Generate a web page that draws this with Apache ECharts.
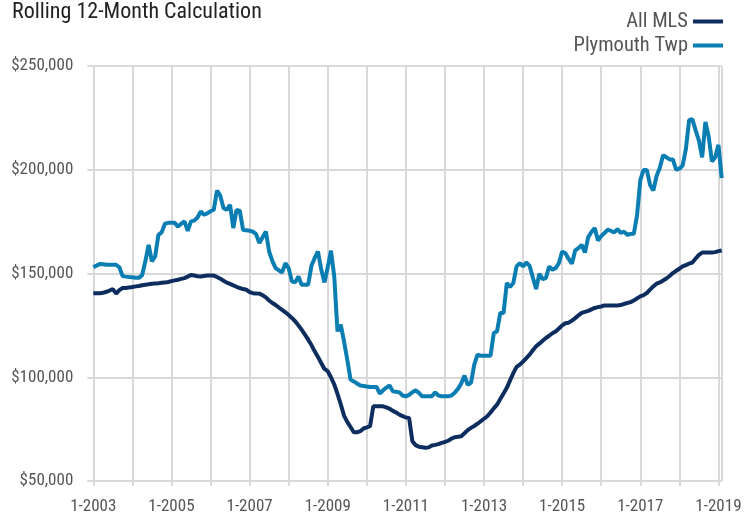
<!DOCTYPE html>
<html>
<head>
<meta charset="utf-8">
<script src="https://cdn.jsdelivr.net/npm/echarts@6/dist/echarts.min.js"></script>
<style>
html,body{margin:0;padding:0;background:#fff;}
#chart{width:755px;height:515px;}
</style>
</head>
<body>
<div id="chart"></div>
<script>
// Monthly categories from 1-2003 to 2-2019
var startYear = 2003, endYear = 2019, endMonth = 2;
var categories = [];
for (var y = startYear; y <= endYear; y++) {
  for (var m = 1; m <= 12; m++) {
    if (y === endYear && m > endMonth) break;
    categories.push(m + '-' + y);
  }
}

// All MLS (values in $ thousands), one per month
var allMLS = [
  140.5,140.5,140.5,140.7,141.2,141.8,142.5,140.3,142.0,143.0,143.0,143.3,
  143.5,143.8,144.0,144.3,144.6,144.8,145.1,145.2,145.3,145.5,145.7,145.9,
  146.3,146.7,147.0,147.4,147.8,148.5,149.3,149.0,148.7,148.6,148.8,149.0,
  149.0,149.0,148.3,147.5,146.5,145.6,145.0,144.3,143.6,143.0,142.5,142.2,
  141.0,140.5,140.4,140.3,139.5,138.5,137.0,135.8,134.8,133.6,132.5,131.3,
  130.0,128.6,127.0,125.0,122.9,120.5,118.1,115.5,112.5,109.8,106.9,104.0,
  102.9,100.0,96.5,92.0,87.0,81.5,78.5,76.0,73.5,73.5,74.0,75.3,
  75.8,76.4,86.0,86.0,86.0,86.0,85.5,84.8,83.8,83.0,82.0,81.3,
  80.6,80.4,69.2,67.3,66.5,66.3,66.0,66.2,67.1,67.4,67.8,68.4,
  68.8,69.4,70.4,71.1,71.3,71.6,73.0,74.5,75.6,76.5,77.6,78.8,
  80.0,81.2,83.0,85.0,86.8,89.5,92.2,94.9,98.5,102.0,105.0,106.1,
  107.6,109.2,110.9,113.0,114.9,116.2,117.6,118.9,120.0,121.2,122.1,123.5,
  125.0,126.0,126.3,127.3,128.5,129.8,131.0,131.5,132.0,132.7,133.4,133.8,
  134.1,134.6,134.6,134.6,134.6,134.6,134.8,135.3,135.8,136.2,137.0,138.0,
  139.0,139.6,140.6,142.2,143.8,145.1,145.7,146.6,147.6,148.8,150.2,151.3,
  152.3,153.4,154.0,154.8,155.3,157.2,159.0,160.1,160.1,160.1,160.1,160.3,
  160.8,161.1
];

// Plymouth Twp (values in $ thousands), one per month
var plymouthTwp = [
  153.1,153.8,154.6,154.5,154.2,154.2,154.2,154.2,153.0,148.8,148.5,148.3,
  148.2,148.0,147.9,149.2,156.0,163.8,155.8,158.2,168.6,169.8,174.0,174.4,
  174.5,174.4,172.6,174.0,175.1,170.5,175.1,175.5,177.0,179.9,178.3,179.0,
  180.0,180.7,190.0,187.5,181.5,180.7,183.1,171.9,180.7,180.2,171.0,170.8,
  170.6,170.2,169.0,164.7,167.5,170.2,160.6,156.0,152.6,151.5,150.5,155.0,
  152.6,146.2,145.7,148.6,144.6,144.6,144.6,153.7,157.5,160.6,152.0,145.7,
  153.0,161.0,148.6,122.1,125.3,117.3,108.5,98.9,98.0,97.0,96.0,95.8,
  95.5,95.3,95.3,95.3,92.1,93.7,95.0,96.0,93.2,93.0,92.7,91.2,
  90.8,91.5,92.8,93.7,92.5,90.8,90.8,90.8,90.8,92.7,91.2,90.8,
  90.8,90.8,91.2,92.5,94.4,97.0,100.8,96.4,97.3,106.1,110.9,110.4,
  110.4,110.4,110.4,121.3,122.1,131.0,131.0,145.4,143.5,145.4,153.4,155.0,
  153.4,155.3,153.7,148.0,142.5,149.9,147.3,147.8,153.4,151.8,152.6,155.0,
  160.6,159.8,157.0,154.7,161.1,162.2,163.8,160.1,167.5,170.0,171.9,165.9,
  168.0,169.5,171.1,170.5,169.8,171.4,169.5,170.2,168.7,169.0,169.1,178.0,
  195.0,199.9,199.9,192.7,190.0,197.0,201.0,207.0,206.0,205.0,205.0,200.0,
  200.5,202.0,210.0,224.0,224.3,219.0,214.0,206.0,223.0,216.0,204.0,206.0,
  212.0,196.0
];

var yTicks = [50000, 100000, 150000, 200000, 250000];

var FONT = '"Roboto Condensed", "Liberation Sans Narrow", Roboto, sans-serif';
var GRID = '#d9d9d9';
var lastIdx = categories.length - 1;

function toDollars(arr) { return arr.map(function (v) { return v * 1000; }); }
function isJan(i) { return i % 12 === 0; }

var chart = echarts.init(document.getElementById('chart'), null, { renderer: 'canvas' });
chart.setOption({
  animation: false,
  backgroundColor: '#ffffff',
  title: {
    text: 'Rolling 12-Month Calculation',
    left: 12, top: 1, padding: 0,
    textStyle: { fontFamily: FONT, fontSize: 22, fontWeight: 'normal', color: '#222' }
  },
  legend: {
    orient: 'vertical',
    right: 32, top: 11,
    align: 'right',
    icon: 'rect',
    itemWidth: 30, itemHeight: 4,
    itemGap: 3,
    padding: 0,
    textStyle: { fontFamily: FONT, fontSize: 20.5, color: '#555', lineHeight: 20 },
    data: ['All MLS', 'Plymouth Twp']
  },
  grid: { left: 93.3, right: 33.3, top: 66, bottom: 33.5, containLabel: false },
  xAxis: {
    type: 'category',
    boundaryGap: false,
    data: categories,
    axisLine: { show: true, lineStyle: { color: GRID, width: 2 } },
    axisTick: {
      show: true, length: 5,
      interval: function (i) { return isJan(i); },
      lineStyle: { color: GRID, width: 2 }
    },
    axisLabel: {
      interval: function (i) { return isJan(i) && ((startYear + i / 12) % 2 === 1); },
      margin: 17,
      fontFamily: FONT, fontSize: 17, color: '#555'
    },
    splitLine: {
      show: true,
      interval: function (i) { return isJan(i) || i === lastIdx; },
      lineStyle: { color: GRID, width: 2 }
    }
  },
  yAxis: {
    type: 'value',
    min: yTicks[0], max: yTicks[yTicks.length - 1], interval: 50000,
    axisLine: { show: false },
    axisTick: { show: true, length: 6, lineStyle: { color: GRID, width: 2 } },
    axisLabel: {
      margin: 20,
      fontFamily: FONT, fontSize: 17, color: '#555',
      formatter: function (v) { return '$' + v.toLocaleString('en-US'); }
    },
    splitLine: { show: true, lineStyle: { color: GRID, width: 2 } }
  },
  series: [
    {
      name: 'All MLS', type: 'line', data: toDollars(allMLS),
      showSymbol: false, symbol: 'none',
      lineStyle: { width: 4, color: '#0c2d5e' },
      itemStyle: { color: '#0c2d5e' }
    },
    {
      name: 'Plymouth Twp', type: 'line', data: toDollars(plymouthTwp),
      showSymbol: false, symbol: 'none',
      lineStyle: { width: 4, color: '#0a7db3' },
      itemStyle: { color: '#0a7db3' }
    }
  ]
});
</script>
</body>
</html>
